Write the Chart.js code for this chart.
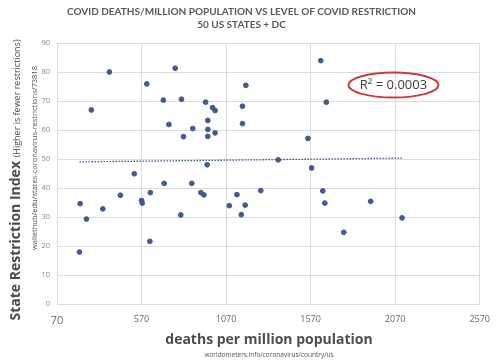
<!DOCTYPE html>
<html>
<head>
<meta charset="utf-8">
<script src="https://cdn.jsdelivr.net/npm/chart.js@4"></script>
<style>
  html, body { margin: 0; padding: 0; background: #fff; }
  #wrap { width: 500px; height: 364px; }
</style>
</head>
<body>
<div id="wrap"><canvas id="chart" width="500" height="364"></canvas></div>
<script>
// deaths per million (x) vs restriction index (y), one per state + DC
const deaths = [380, 769, 601, 1187, 699, 806, 949, 273, 990, 1005, 1167, 962, 732, 873, 962, 1167, 818, 962, 1005,
  1630, 1663, 1554,
  958, 527, 704, 867, 445, 622, 921, 939, 1134, 1275, 207, 570, 574, 1089, 1183, 341, 244, 802, 1160, 619, 203,
  1378, 1576, 1642, 1654, 1925, 2111, 1766];
const restriction = [80, 81.3, 75.9, 75.4, 70.3, 70.6, 69.6, 66.9, 67.7, 66.7, 68.2, 63.3, 61.9, 60.5, 60.2, 62.2, 57.7, 57.8, 59,
  83.9, 69.6, 57.1,
  48, 44.9, 41.6, 41.6, 37.5, 38.4, 38.4, 37.6, 37.7, 39.1, 34.6, 35.7, 34.8, 33.9, 34.1, 32.8, 29.3, 30.7, 30.8, 21.6, 17.9,
  49.7, 46.9, 39, 34.8, 35.4, 29.7, 24.7];

// linear trendline as drawn (ends)
const trendX = [203, 2111];
const trendY = [49.0, 50.3];

const xTicks = [70, 570, 1070, 1570, 2070, 2570];
const yTicks = [0, 10, 20, 30, 40, 50, 60, 70, 80, 90];

const rSquaredText = "R\u00B2 = 0.0003";
const rSquaredAt = { x: 2060, y: 75.5 };

const blue = "#46598f";

const textPlugin = {
  id: "extraText",
  afterDraw(chart) {
    const ctx = chart.ctx;
    const xs = chart.scales.x, ys = chart.scales.y;
    ctx.save();

    // R² callout
    const cx = xs.getPixelForValue(rSquaredAt.x);
    const cy = ys.getPixelForValue(rSquaredAt.y);
    ctx.beginPath();
    ctx.ellipse(cx, cy, 45, 12.5, 0, 0, Math.PI * 2);
    ctx.strokeStyle = "#cc3b3b";
    ctx.lineWidth = 2;
    ctx.stroke();
    ctx.fillStyle = "#404040";
    ctx.font = "13px 'Open Sans'";
    ctx.textAlign = "center";
    ctx.textBaseline = "middle";
    ctx.fillText(rSquaredText, cx, cy);

    // y axis title
    ctx.translate(15, 180);
    ctx.rotate(-Math.PI / 2);
    ctx.fillStyle = "#4d4d4d";
    ctx.font = "bold 14px 'Open Sans'";
    const main = "State Restriction Index ";
    const w1 = ctx.measureText(main).width;
    ctx.font = "9px 'Open Sans'";
    const sub = "(Higher is fewer restrictions)";
    const w2 = ctx.measureText(sub).width;
    let start = -(w1 + w2) / 2;
    ctx.textAlign = "left";
    ctx.textBaseline = "alphabetic";
    ctx.font = "bold 14px 'Open Sans'";
    ctx.fillText(main, start, 5);
    ctx.font = "9px 'Open Sans'";
    ctx.fillText(sub, start + w1, 5);
    ctx.setTransform(1, 0, 0, 1, 0, 0);

    ctx.translate(35, 158);
    ctx.rotate(-Math.PI / 2);
    ctx.textAlign = "center";
    ctx.textBaseline = "middle";
    ctx.font = "7.5px 'Open Sans'";
    ctx.fillStyle = "#555";
    ctx.fillText("wallethub/edu/states-coronavirus-restrictions/73818", 0, 0);
    ctx.setTransform(1, 0, 0, 1, 0, 0);

    // x axis title
    ctx.fillStyle = "#4d4d4d";
    ctx.font = "bold 14px 'Open Sans'";
    ctx.fillText("deaths per million population", 269, 340);
    ctx.font = "6.5px 'Open Sans'";
    ctx.fillStyle = "#555";
    ctx.fillText("worldometers.info/coronavirus/country/us", 269, 355);
    ctx.restore();
  }
};

new Chart(document.getElementById("chart"), {
  type: "scatter",
  data: {
    datasets: [
      {
        label: "States",
        data: deaths.map((d, i) => ({ x: d, y: restriction[i] })),
        backgroundColor: blue,
        borderColor: blue,
        pointRadius: 2.4,
        pointHoverRadius: 2.4,
      },
      {
        label: "Trend",
        type: "line",
        data: trendX.map((d, i) => ({ x: d, y: trendY[i] })),
        borderColor: blue,
        borderWidth: 1.3,
        borderDash: [1.5, 1.5],
        pointRadius: 0,
        fill: false,
      },
    ],
  },
  options: {
    responsive: false,
    animation: false,
    layout: { padding: { right: 17, bottom: 0 } },
    plugins: {
      legend: { display: false },
      tooltip: { enabled: false },
      title: {
        display: true,
        text: ["COVID DEATHS/MILLION POPULATION VS LEVEL OF COVID RESTRICTION", "50 US STATES + DC"],
        color: "#595959",
        font: { family: "Lato, sans-serif", size: 10, weight: "bold", lineHeight: 1.35 },
        padding: { top: 5, bottom: 11 },
      },
    },
    scales: {
      x: {
        type: "linear",
        min: 70,
        max: 2570,
        afterBuildTicks: (s) => { s.ticks = xTicks.map((v) => ({ value: v })); },
        afterFit: (s) => { s.height = 60; },
        grid: { color: "#dcdcdc", drawTicks: false },
        border: { color: "#dcdcdc" },
        ticks: {
          padding: 10,
          color: "#666",
          callback: (v) => String(v),
          font: (c) => ({ family: "'Open Sans'", size: c.tick && c.tick.value === 70 ? 11 : 9 }),
        },
      },
      y: {
        min: 0,
        max: 90,
        afterBuildTicks: (s) => { s.ticks = yTicks.map((v) => ({ value: v })); },
        afterFit: (s) => { s.width = 57; },
        grid: { color: "#dcdcdc", drawTicks: false },
        border: { color: "#dcdcdc" },
        ticks: { padding: 7, color: "#888", font: { family: "'Open Sans'", size: 7.5 } },
      },
    },
  },
  plugins: [textPlugin],
});
</script>
</body>
</html>
